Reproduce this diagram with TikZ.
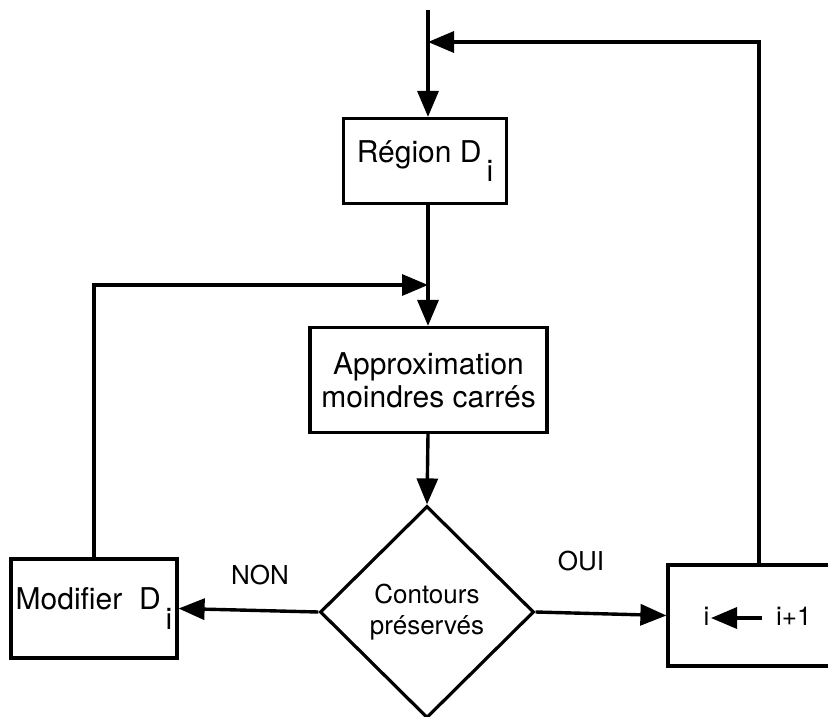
\documentclass[tikz,border=0pt]{standalone}
\usepackage{fontspec}
\setmainfont{TeX Gyre Heros}
\usetikzlibrary{arrows.meta,shapes.geometric}

\tikzset{
  x=1pt, y=-1pt,
  flow/.style={line width=3.4pt, -{Triangle[length=26pt,width=21pt]}},
  wire/.style={line width=3.4pt},
  stepbox/.style={draw, line width=3.2pt, rectangle, inner sep=0pt,
    font=\fontsize{30}{33}\selectfont, align=center},
  testbox/.style={draw, line width=3.2pt, diamond, aspect=1, inner sep=0pt,
    font=\fontsize{26}{31}\selectfont, align=center},
  tag/.style={font=\fontsize{26}{28}\selectfont, inner sep=0pt},
}
\newcommand{\lowsub}[1]{\raisebox{-0.65em}{#1}}

\begin{document}
\begin{tikzpicture}
  \useasboundingbox (0,0) rectangle (828,716);

  % boxes of the loop
  \node[stepbox, minimum width=163pt, minimum height=85pt] (region) at (425,161)
    {Région D\,\lowsub{i}};
  \node[stepbox, minimum width=237pt, minimum height=105pt] (approx) at (428.5,380)
    {Approximation\\moindres carrés};
  \node[testbox, minimum width=214pt, minimum height=212pt] (test) at (427,612)
    {Contours\\préservés};
  \node[stepbox, minimum width=166pt, minimum height=99pt] (modif) at (94,608.5)
    {Modifier\ \ D\,\lowsub{i}};
  \node[stepbox, minimum width=182pt, minimum height=101pt] (incr) at (759,615.5) {};

  % contents of the increment box
  \node[tag, anchor=base] (inew) at (706.5,625) {i};
  \node[tag, anchor=base west] (iold) at (776,625) {i+1};
  \coordinate (ifrom) at (762,618);
  \coordinate (ito) at (711,618);

  % branch labels
  \node[tag] (non) at (260,575) {NON};
  \node[tag] (oui) at (581,561) {OUI};

  % junction points
  \coordinate (start) at (428,10);
  \coordinate (back) at (428,42);
  \coordinate (merge) at (428,285);

  % connectors
  \draw[flow] (start) -- (region.north -| start);
  \draw[flow] (incr.north) |- (back);
  \draw[wire] (region.south -| start) -- (merge);
  \draw[flow] (merge) -- (approx.north -| merge);
  \draw[flow] (modif.north) |- (merge);
  \draw[flow] (approx.south -| merge) -- (test.north);
  \draw[flow] (test.west) -- (modif.east);
  \draw[flow] (test.east) -- (incr.west);
  \draw[flow] (ifrom) -- (ito);
\end{tikzpicture}
\end{document}
